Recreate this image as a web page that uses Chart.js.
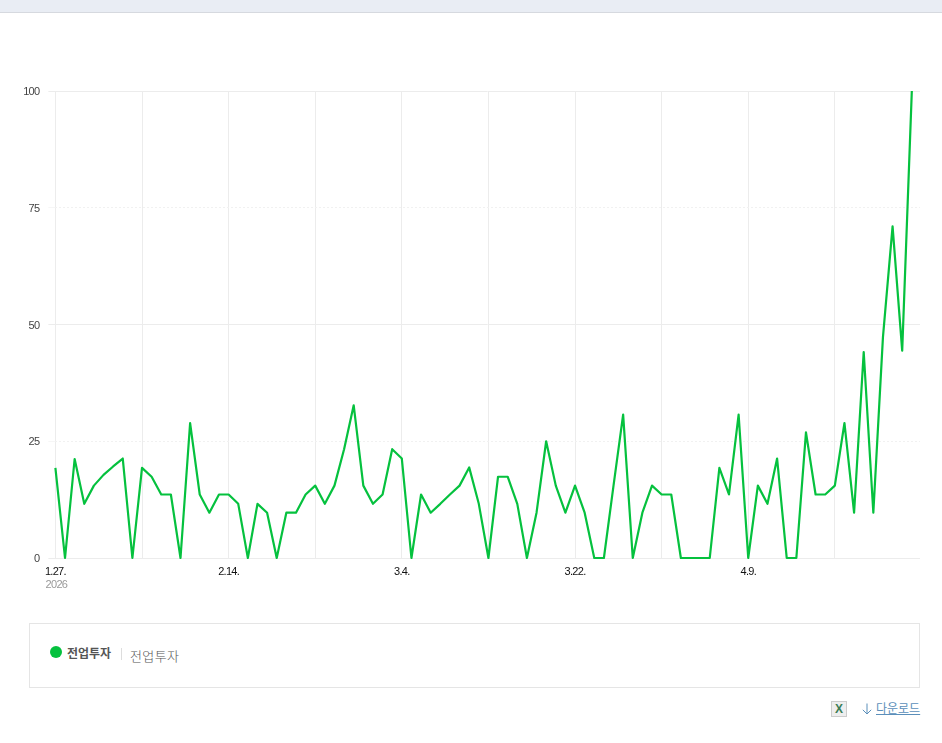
<!DOCTYPE html>
<html lang="ko">
<head>
<meta charset="utf-8">
<title>전업투자</title>
<script src="https://cdn.jsdelivr.net/npm/chart.js@4/dist/chart.umd.min.js"></script>
<style>
  html, body { margin: 0; padding: 0; background: #fff; }
  body { position: relative; width: 942px; height: 743px; overflow: hidden; font-family: "Noto Sans CJK KR", sans-serif; }
  #topbar { position: absolute; left: 0; top: 0; width: 942px; height: 12px; background: #e9edf4; border-bottom: 1px solid #d6d9df; }
  #chartCanvas { position: absolute; left: 0; top: 0; }
  #legendBox { position: absolute; left: 29px; top: 623px; width: 889px; height: 63px; border: 1px solid #e5e5e5; }
  #dot { position: absolute; left: 50px; top: 646px; width: 12px; height: 12px; border-radius: 50%; background: #05c13e; }
  #name { position: absolute; left: 67px; top: 644px; font-size: 12px; line-height: 18px; font-weight: 700; color: #555; }
  #sep { position: absolute; left: 121px; top: 648px; width: 1px; height: 12px; background: #ddd; }
  #desc { position: absolute; left: 130px; top: 647px; font-size: 13px; line-height: 18px; font-weight: 300; letter-spacing: 0.4px; color: #555; }
  #xls { position: absolute; left: 831px; top: 701px; width: 14px; height: 14px; border: 1px solid #ccc; background: #eee; color: #3b7d55; font: 700 12px/14px "Liberation Sans", sans-serif; text-align: center; }
  #arrow { position: absolute; left: 862px; top: 703px; }
  #download { position: absolute; left: 876px; top: 699px; font-size: 12px; line-height: 18px; color: #5b8fba; text-decoration: underline; white-space: nowrap; }
</style>
</head>
<body>
<div id="topbar"></div>
<canvas id="chartCanvas" width="942" height="600"></canvas>
<div id="legendBox"></div>
<div id="dot"></div>
<div id="name">전업투자</div>
<div id="sep"></div>
<div id="desc">전업투자</div>
<div id="xls">X</div>
<svg id="arrow" width="10" height="12" viewBox="0 0 10 12" fill="none" stroke="#5b8fba" stroke-width="1"><path d="M5 0.5V11M0.8 6.8L5 11L9.2 6.8"/></svg>
<div id="download">다운로드</div>
<script>
const seriesName = "전업투자";
const yearLabel = "2026";
const dateLabels = ["1.27.", "2.14.", "3.4.", "3.22.", "4.9."];
const yTicks = [0, 25, 50, 75, 100];
const values = [
  19.3, 0, 21.2, 11.6, 15.5, 17.8, 19.6, 21.3, 0, 19.3,
  17.4, 13.6, 13.6, 0, 28.9, 13.6, 9.7, 13.6, 13.6, 11.6,
  0, 11.6, 9.7, 0, 9.7, 9.7, 13.6, 15.5, 11.6, 15.5,
  23.3, 32.7, 15.5, 11.6, 13.6, 23.3, 21.3, 0, 13.6, 9.7,
  11.6, 13.6, 15.5, 19.4, 11.6, 0, 17.4, 17.4, 11.6, 0,
  9.7, 25, 15.5, 9.7, 15.5, 9.7, 0, 0, 15.5, 30.7,
  0, 9.7, 15.5, 13.6, 13.6, 0, 0, 0, 0, 19.3,
  13.6, 30.7, 0, 15.5, 11.6, 21.3, 0, 0, 26.9, 13.6,
  13.6, 15.5, 28.9, 9.7, 44.1, 9.7, 47.3, 71, 44.4, 100
];

const labelFont = '"Liberation Sans", sans-serif';

// the original tick text is set very tight
const tightText = {
  id: "tightText",
  beforeDraw(chart) { chart.ctx.letterSpacing = "-0.7px"; }
};

const yearPlugin = {
  id: "yearLabel",
  afterDraw(chart) {
    const { ctx, scales } = chart;
    ctx.save();
    ctx.font = "11px " + labelFont;
    ctx.fillStyle = "#999";
    ctx.textAlign = "center";
    ctx.textBaseline = "middle";
    ctx.fillText(yearLabel, scales.x.getPixelForValue(0) + 1, 585);
    ctx.restore();
  }
};

new Chart(document.getElementById("chartCanvas"), {
  type: "line",
  data: {
    datasets: [{
      label: seriesName,
      data: values.map((v, i) => ({ x: i, y: v })),
      borderColor: "#05c13e",
      borderWidth: 2.2,
      borderJoinStyle: "round",
      pointRadius: 0,
      tension: 0,
      fill: false,
      clip: false
    }]
  },
  options: {
    responsive: false,
    animation: false,
    layout: { padding: { top: 91, right: 22, left: 0, bottom: 0 } },
    plugins: { legend: { display: false }, tooltip: { enabled: false } },
    scales: {
      x: {
        type: "linear",
        min: 0,
        max: 89.85,
        afterFit(scale) { scale.height = 42; },
        grid: { color: "#ececec", lineWidth: 1, tickLength: 0, drawTicks: false },
        border: { display: false },
        ticks: {
          stepSize: 9,
          includeBounds: false,
          autoSkip: false,
          maxRotation: 0,
          padding: 7,
          color: "#111",
          font: { family: labelFont, size: 11 },
          callback: (v) => (v % 18 === 0 ? dateLabels[v / 18] : "")
        }
      },
      y: {
        min: 0,
        max: 100,
        afterFit(scale) { scale.width = 55.4; },
        afterBuildTicks(scale) { scale.ticks = yTicks.map((value) => ({ value })); },
        grid: {
          color: (c) => (c.tick && c.tick.value % 50 === 0 ? "#ececec" : "#f1f1f1"),
          tickColor: (c) => (c.tick && c.tick.value % 50 === 0 ? "#ececec" : "#f6f6f6"),
          lineWidth: 1,
          tickLength: 7
        },
        border: {
          display: false,
          dash: (c) => (c.tick && c.tick.value % 50 === 0 ? [] : [2, 2])
        },
        ticks: {
          padding: 9,
          labelOffset: 1,
          color: "#444",
          font: { family: labelFont, size: 11 }
        }
      }
    }
  },
  plugins: [tightText, yearPlugin]
});
</script>
</body>
</html>
